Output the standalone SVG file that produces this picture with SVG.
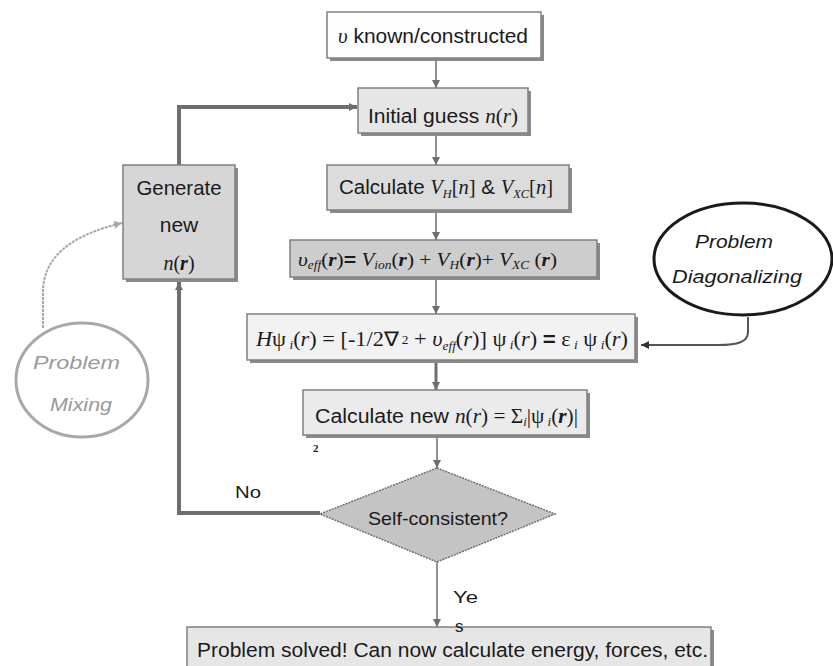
<svg xmlns="http://www.w3.org/2000/svg" width="833" height="666" viewBox="0 0 833 666">
<defs>
<style>
.sans{font-family:"Liberation Sans",Arial,sans-serif;fill:#1a1a1a}
.ser{font-family:"Liberation Serif","Times New Roman",serif;font-style:italic}
.box{stroke:#808080;stroke-width:1.5}
.sh{fill:#8a8a8a}
.c{fill:none;stroke:#6e6e6e;stroke-width:1.5}
.thick{fill:none;stroke:#6e6e6e;stroke-width:4}
.sub{font-size:12px}
</style>
<marker id="ah" viewBox="0 0 10 10" refX="10" refY="5" markerWidth="8" markerHeight="8" markerUnits="userSpaceOnUse" orient="auto">
<path d="M0,0 L10,5 L0,10 Z" fill="#6e6e6e"/>
</marker>
<marker id="ahg" viewBox="0 0 10 10" refX="10" refY="5" markerWidth="8" markerHeight="8" markerUnits="userSpaceOnUse" orient="auto">
<path d="M0,0 L10,5 L0,10 Z" fill="#a8a8a8"/>
</marker>
<marker id="ahk" viewBox="0 0 10 10" refX="10" refY="5" markerWidth="8" markerHeight="8" markerUnits="userSpaceOnUse" orient="auto">
<path d="M0,0 L10,5 L0,10 Z" fill="#333"/>
</marker>
</defs>
<rect width="833" height="666" fill="#fff"/>

<g id="connectors">
<path class="c" d="M436,58 L436,88" marker-end="url(#ah)"/>
<path class="c" d="M436,133 L436,165" marker-end="url(#ah)"/>
<path class="c" d="M436,210 L436,240" marker-end="url(#ah)"/>
<path class="c" d="M436,277 L436,314" marker-end="url(#ah)"/>
<path class="c" style="stroke-width:3" d="M436,362 L436,390" marker-end="url(#ah)"/>
<path class="c" d="M437,437 L437,468" marker-end="url(#ah)"/>
<path class="c" d="M437,562 L437,627" marker-end="url(#ah)"/>
<path class="thick" d="M320,513 L179,513 L179,282" marker-end="url(#ah)"/>
<path class="thick" d="M179,165 L179,107 L357,107" marker-end="url(#ah)"/>
<path fill="none" stroke="#a8a8a8" stroke-width="2" stroke-dasharray="3,1" d="M43,328 L43,292 C43,252 80,233 122,223" marker-end="url(#ahg)"/>
<path fill="none" stroke="#555" stroke-width="2" d="M748,317 L748,332 C748,342 738,345 718,345 L641,345" marker-end="url(#ahk)"/>
</g>

<g id="n1">
<rect class="sh" x="330" y="15" width="214" height="46"/>
<rect class="box" x="327" y="12" width="214" height="46" fill="#fdfdfd"/>
<text class="sans" x="338" y="43" font-size="20" textLength="190" lengthAdjust="spacingAndGlyphs"><tspan class="ser">υ</tspan> known/constructed</text>
</g>

<g id="n2">
<rect class="sh" x="361" y="91" width="170" height="45"/>
<rect class="box" x="358" y="88" width="170" height="45" fill="#e6e6e6"/>
<text class="sans" x="368" y="123" font-size="20" textLength="150" lengthAdjust="spacingAndGlyphs">Initial guess <tspan class="ser">n</tspan><tspan font-family="Liberation Serif">(</tspan><tspan class="ser">r</tspan><tspan font-family="Liberation Serif">)</tspan></text>
</g>

<g id="n3">
<rect class="sh" x="330" y="168" width="242" height="45"/>
<rect class="box" x="327" y="165" width="242" height="45" fill="#dcdcdc"/>
<text class="sans" x="339" y="194" font-size="20" textLength="214" lengthAdjust="spacingAndGlyphs">Calculate <tspan class="ser">V</tspan><tspan class="ser sub" dy="4">H</tspan><tspan font-family="Liberation Serif" dy="-4">[</tspan><tspan class="ser">n</tspan><tspan font-family="Liberation Serif">]</tspan> &amp; <tspan class="ser">V</tspan><tspan class="ser sub" dy="4">XC</tspan><tspan font-family="Liberation Serif" dy="-4">[</tspan><tspan class="ser">n</tspan><tspan font-family="Liberation Serif">]</tspan></text>
</g>

<g id="n4">
<rect class="sh" x="293" y="243" width="307" height="37"/>
<rect class="box" x="290" y="240" width="307" height="37" fill="#cdcdcd"/>
<text x="298" y="266" font-size="19" font-family="Liberation Serif" fill="#1a1a1a" textLength="259" lengthAdjust="spacingAndGlyphs"><tspan class="ser">υ</tspan><tspan class="ser sub" dy="3">eff</tspan><tspan dy="-3">(</tspan><tspan class="ser" font-weight="bold">r</tspan>)<tspan font-family="Liberation Sans" font-weight="bold">=</tspan> <tspan class="ser">V</tspan><tspan class="ser sub" dy="3">ion</tspan><tspan dy="-3">(</tspan><tspan class="ser" font-weight="bold">r</tspan>) + <tspan class="ser">V</tspan><tspan class="ser sub" dy="3">H</tspan><tspan dy="-3">(</tspan><tspan class="ser" font-weight="bold">r</tspan>)+ <tspan class="ser">V</tspan><tspan class="ser sub" dy="3">XC</tspan><tspan dy="-3"> (</tspan><tspan class="ser" font-weight="bold">r</tspan>)</text>
</g>

<g id="n5">
<rect class="sh" x="250" y="317" width="388" height="46"/>
<rect class="box" x="247" y="314" width="388" height="46" fill="#f2f2f2"/>
<text x="256" y="346" font-size="20" font-family="Liberation Serif" fill="#1a1a1a" textLength="372" lengthAdjust="spacingAndGlyphs"><tspan class="ser">H</tspan>ψ<tspan class="ser sub" dy="3"> i</tspan><tspan dy="-3">(</tspan><tspan class="ser">r</tspan>) = [-1/2∇<tspan class="sub" dy="-2"> 2</tspan><tspan dy="2"> + </tspan><tspan class="ser">υ</tspan><tspan class="ser sub" dy="4">eff</tspan><tspan dy="-4">(</tspan><tspan class="ser">r</tspan>)]  ψ<tspan class="ser sub" dy="3"> i</tspan><tspan dy="-3">(</tspan><tspan class="ser">r</tspan>) <tspan font-family="Liberation Sans" font-weight="bold">=</tspan> ε<tspan class="ser sub" dy="3"> i</tspan><tspan dy="-3"> ψ</tspan><tspan class="ser sub" dy="3"> i</tspan><tspan dy="-3">(</tspan><tspan class="ser">r</tspan>)</text>
</g>

<g id="n6">
<rect class="sh" x="306" y="393" width="284" height="45"/>
<rect class="box" x="303" y="390" width="284" height="45" fill="#ebebeb"/>
<text class="sans" x="315" y="423" font-size="20" textLength="263" lengthAdjust="spacingAndGlyphs">Calculate  new <tspan class="ser">n</tspan><tspan font-family="Liberation Serif">(</tspan><tspan class="ser">r</tspan><tspan font-family="Liberation Serif">) = Σ</tspan><tspan class="ser sub" dy="3">i</tspan><tspan font-family="Liberation Serif" dy="-3">|ψ</tspan><tspan class="ser sub" dy="3"> i</tspan><tspan font-family="Liberation Serif" dy="-3">(</tspan><tspan class="ser" font-weight="bold">r</tspan><tspan font-family="Liberation Serif">)|</tspan></text>
<text x="313" y="452" font-size="11" font-weight="bold" font-family="Liberation Serif" fill="#1a1a1a">2</text>
</g>

<g id="n7">
<polygon points="437,468 555,514 437,562 320,514" fill="#c4c4c4" stroke="#707070" stroke-width="1.5" stroke-dasharray="2,1"/>
<text class="sans" x="368" y="525" font-size="19" textLength="140" lengthAdjust="spacingAndGlyphs">Self-consistent?</text>
</g>

<g id="n8">
<rect class="sh" x="126" y="168" width="112" height="114"/>
<rect class="box" x="123" y="165" width="112" height="114" fill="#d6d6d6"/>
<text class="sans" x="179" y="195" font-size="21" text-anchor="middle" textLength="85" lengthAdjust="spacingAndGlyphs">Generate</text>
<text class="sans" x="179" y="232" font-size="21" text-anchor="middle">new</text>
<text x="179" y="270" font-size="20" font-family="Liberation Serif" text-anchor="middle" fill="#1a1a1a"><tspan class="ser">n</tspan>(<tspan class="ser" font-weight="bold">r</tspan>)</text>
</g>

<g id="n9">
<rect class="sh" x="190" y="630" width="524" height="40"/>
<rect class="box" x="187" y="627" width="524" height="42" fill="#e6e6e6"/>
<text class="sans" x="197" y="657" font-size="20" textLength="511" lengthAdjust="spacingAndGlyphs">Problem solved! Can now calculate energy, forces, etc.</text>
</g>

<g id="n10">
<ellipse cx="743" cy="259" rx="89" ry="56" fill="#fff" stroke="#1a1a1a" stroke-width="3"/>
<text class="sans" x="695" y="248" font-size="19" font-style="italic" textLength="78" lengthAdjust="spacingAndGlyphs">Problem</text>
<text class="sans" x="672" y="283" font-size="19" font-style="italic" textLength="130" lengthAdjust="spacingAndGlyphs">Diagonalizing</text>
</g>

<g id="n11">
<ellipse cx="82" cy="380" rx="66" ry="57" fill="#fff" stroke="#a8a8a8" stroke-width="3"/>
<text x="33" y="369" font-size="19" font-style="italic" font-family="Liberation Sans" fill="#9a9a9a" textLength="87" lengthAdjust="spacingAndGlyphs">Problem</text>
<text x="50" y="411" font-size="19" font-style="italic" font-family="Liberation Sans" fill="#9a9a9a" textLength="62" lengthAdjust="spacingAndGlyphs">Mixing</text>
</g>

<g id="connector-labels">
<text class="sans" x="235" y="498" font-size="17" textLength="26" lengthAdjust="spacingAndGlyphs">No</text>
<text class="sans" x="453" y="603" font-size="17" textLength="25" lengthAdjust="spacingAndGlyphs">Ye</text>
<text class="sans" x="455" y="632" font-size="17">s</text>
</g>
</svg>
